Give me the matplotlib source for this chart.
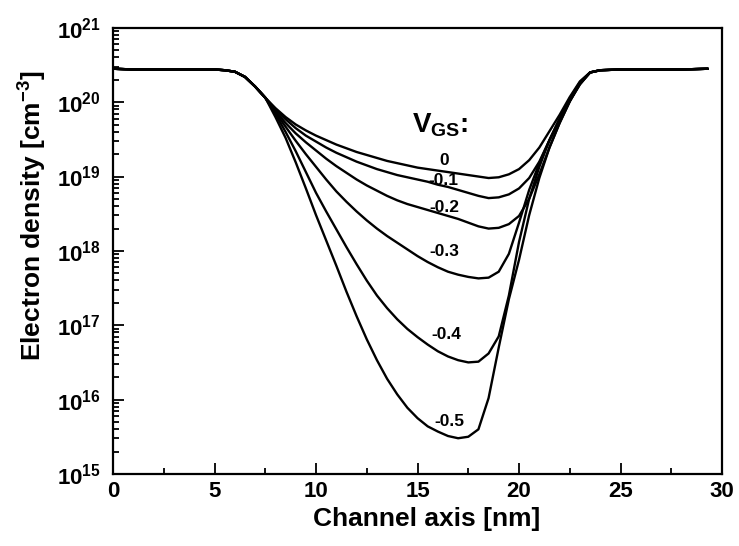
import matplotlib
matplotlib.use("Agg")
import matplotlib.pyplot as plt
import numpy as np
from matplotlib.ticker import (FuncFormatter, MultipleLocator, LogLocator,
                               FixedLocator, NullFormatter)

plt.rcParams['font.family'] = ['Liberation Sans', 'DejaVu Sans']
plt.rcParams['font.weight'] = 'bold'
plt.rcParams['mathtext.fontset'] = 'custom'
plt.rcParams['mathtext.rm'] = 'Liberation Sans:bold'
plt.rcParams['mathtext.bf'] = 'Liberation Sans:bold'
plt.rcParams['mathtext.it'] = 'Liberation Sans:bold'
plt.rcParams['mathtext.default'] = 'rm'

# channel position [nm]
x_nm = [0, 1, 2, 3, 4, 5, 5.5, 6, 6.5, 7, 7.5,
        8, 8.5, 9, 9.5, 10, 10.5, 11, 11.5, 12, 12.5, 13, 13.5, 14, 14.5, 15,
        15.5, 16, 16.5, 17, 17.5, 18, 18.5, 19, 19.5, 20, 20.5, 21, 21.5, 22,
        22.5, 23,
        23.5, 24, 25, 26, 27, 28, 29.3]

# log10 of electron density [cm^-3]: source/drain plateaus shared by all biases
source_side = [20.45, 20.44, 20.44, 20.44, 20.44, 20.44, 20.43, 20.41, 20.34, 20.21, 20.06]
drain_side = [20.40, 20.43, 20.44, 20.44, 20.44, 20.44, 20.45]

# channel region (x = 8 ... 23 nm) for each V_GS
n_0 = [19.92, 19.80, 19.70, 19.62, 19.55, 19.49, 19.43, 19.38, 19.33, 19.29,
       19.25, 19.21, 19.18, 19.15, 19.12, 19.10, 19.08, 19.06, 19.04, 19.02,
       19.00, 18.98, 18.99, 19.03, 19.10, 19.22, 19.39, 19.61, 19.83, 20.07, 20.28]
n_m01 = [19.90, 19.77, 19.65, 19.55, 19.47, 19.39, 19.32, 19.26, 19.20, 19.15,
         19.10, 19.06, 19.02, 18.99, 18.96, 18.93, 18.89, 18.86, 18.82, 18.78,
         18.74, 18.71, 18.72, 18.76, 18.84, 18.98, 19.20, 19.49, 19.78, 20.05, 20.27]
n_m02 = [19.88, 19.72, 19.58, 19.46, 19.35, 19.24, 19.14, 19.05, 18.96, 18.88,
         18.81, 18.74, 18.68, 18.63, 18.59, 18.55, 18.51, 18.47, 18.43, 18.38,
         18.33, 18.30, 18.31, 18.36, 18.47, 18.70, 19.03, 19.39, 19.72, 20.01, 20.26]
n_m03 = [19.86, 19.67, 19.48, 19.30, 19.13, 18.96, 18.80, 18.66, 18.53, 18.41,
         18.30, 18.20, 18.11, 18.02, 17.93, 17.85, 17.78, 17.72, 17.68, 17.65,
         17.63, 17.64, 17.72, 17.96, 18.38, 18.82, 19.18, 19.49, 19.77, 20.02, 20.25]
n_m04 = [19.84, 19.60, 19.34, 19.06, 18.78, 18.53, 18.29, 18.05, 17.82, 17.60,
         17.40, 17.23, 17.08, 16.95, 16.84, 16.74, 16.65, 16.58, 16.53, 16.50,
         16.51, 16.62, 16.85, 17.40, 18.12, 18.70, 19.13, 19.49, 19.77, 20.02, 20.24]
n_m05 = [19.80, 19.52, 19.19, 18.84, 18.48, 18.14, 17.80, 17.45, 17.12, 16.81,
         16.53, 16.28, 16.07, 15.89, 15.75, 15.64, 15.57, 15.51, 15.48, 15.50,
         15.60, 16.02, 16.70, 17.35, 17.88, 18.48, 18.98, 19.39, 19.72, 20.01, 20.24]

vgs_labels = ["0", "-0.1", "-0.2", "-0.3", "-0.4", "-0.5"]
channel = [n_0, n_m01, n_m02, n_m03, n_m04, n_m05]

# label anchor points (x [nm], log10 n)
label_x = [16.3, 16.25, 16.3, 16.3, 16.4, 16.55]
label_y = [19.21, 18.95, 18.59, 17.99, 16.87, 15.71]

fig = plt.figure(figsize=(7.39, 5.46), dpi=100)
ax = fig.add_axes([0.153, 0.132, 0.824, 0.817])

for vals in channel:
    logn = np.array(source_side + vals + drain_side)
    ax.plot(x_nm, 10 ** logn, color='black', lw=1.7,
            solid_joinstyle='round', solid_capstyle='round')

for txt, lx, ly in zip(vgs_labels, label_x, label_y):
    ax.text(lx, 10 ** ly, txt, fontsize=12.5, fontweight='bold',
            ha='center', va='center')

ax.text(16.1, 10 ** 19.69, r'V$_{\mathbf{GS}}$:', fontsize=20,
        ha='center', va='center')

ax.set_yscale('log')
ax.set_xlim(0, 30)
ax.set_ylim(1e15, 1e21)

ax.xaxis.set_major_locator(MultipleLocator(5))
ax.xaxis.set_minor_locator(MultipleLocator(2.5))
ax.yaxis.set_major_locator(FixedLocator([10.0 ** k for k in range(15, 22)]))
ax.yaxis.set_minor_locator(LogLocator(base=10, subs=np.arange(2, 10), numticks=20))
ax.yaxis.set_minor_formatter(NullFormatter())
ax.yaxis.set_major_formatter(FuncFormatter(lambda v, p: r'$\mathbf{10^{%d}}$' % round(np.log10(v))))

ax.tick_params(which='both', direction='in', top=False, right=False, width=1.3)
ax.tick_params(which='major', length=8, labelsize=16)
ax.tick_params(which='minor', length=4)
ax.tick_params(axis='y', which='major', pad=9)
ax.tick_params(axis='x', which='major', pad=5)
for lbl in ax.get_xticklabels():
    lbl.set_fontweight('bold')

for sp in ax.spines.values():
    sp.set_linewidth(1.6)

ax.set_xlabel('Channel axis [nm]', fontsize=19, fontweight='bold')
ax.set_ylabel('Electron density [cm$^{-3}$]', fontsize=19, fontweight='bold')
ax.xaxis.set_label_coords(0.515, -0.075)
ax.yaxis.set_label_coords(-0.106, 0.58)

fig.savefig('out.png', dpi=100)
